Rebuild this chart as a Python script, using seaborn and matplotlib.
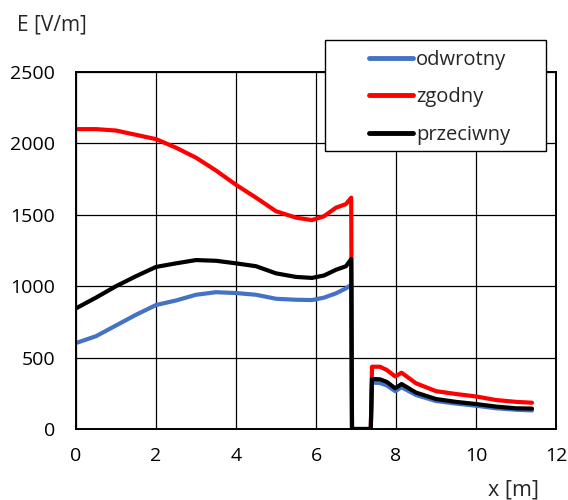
import matplotlib
matplotlib.use("Agg")
import matplotlib.pyplot as plt
from matplotlib.patches import Rectangle
import seaborn as sns
import pandas as pd

# x positions along the measurement path [m]
x_pos = [0, 0.5, 1, 1.5, 2, 2.5, 3, 3.5, 4, 4.5, 5, 5.5, 5.9, 6.2, 6.5, 6.75, 6.88,
         6.9, 7.37,
         7.4, 7.6, 7.77, 7.98, 8.14, 8.5, 9.0, 9.5, 10.0, 10.5, 11.0, 11.4]

odwrotny = [602, 650, 725, 800, 868, 900, 940, 958, 952, 940, 912, 905, 903, 920, 950, 985, 1010,
            0, 0,
            325, 322, 305, 265, 292, 238, 196, 178, 163, 145, 135, 130]
zgodny = [2100, 2100, 2090, 2060, 2030, 1970, 1900, 1810, 1710, 1620, 1525, 1480, 1463, 1490, 1550, 1575, 1620,
          0, 0,
          436, 436, 413, 368, 394, 320, 265, 245, 228, 203, 190, 184]
przeciwny = [845, 920, 1000, 1070, 1135, 1160, 1183, 1178, 1160, 1140, 1090, 1065, 1058, 1075, 1115, 1140, 1190,
             0, 0,
             350, 348, 330, 285, 315, 255, 210, 190, 175, 157, 145, 143]

series_names = ["odwrotny", "zgodny", "przeciwny"]
series_colors = ["#4472C4", "#FF0000", "#000000"]

x_ticks = [0, 2, 4, 6, 8, 10, 12]
y_ticks = [0, 500, 1000, 1500, 2000, 2500]

rows = []
for name, vals in zip(series_names, [odwrotny, zgodny, przeciwny]):
    for xv, yv in zip(x_pos, vals):
        rows.append({"x": xv, "E": yv, "seria": name})
df = pd.DataFrame(rows)

sns.set_style("white")
plt.rcParams["font.family"] = ["Open Sans", "DejaVu Sans"]

fig = plt.figure(figsize=(5.68, 5.00), dpi=100)
ax = fig.add_axes([76 / 568, 71 / 500, (556 - 76) / 568, (429 - 72) / 500])

sns.lineplot(data=df, x="x", y="E", hue="seria", hue_order=series_names,
             palette=dict(zip(series_names, series_colors)), estimator=None,
             sort=False, linewidth=3, ax=ax)

ax.set_xlim(0, 12)
ax.set_ylim(0, 2500)
ax.set_xticks(x_ticks)
ax.set_yticks(y_ticks)
ax.set_xticklabels([str(t) for t in x_ticks])
ax.set_yticklabels([str(t) for t in y_ticks])
ax.tick_params(axis="both", length=0, labelsize=14, colors="black")
ax.tick_params(axis="x", pad=13)
ax.tick_params(axis="y", pad=15)
ax.grid(True, color="black", linewidth=0.9)
ax.set_axisbelow(True)
for s in ax.spines.values():
    s.set_visible(True)
    s.set_color("black")
    s.set_linewidth(1.4)
ax.set_xlabel("")
ax.set_ylabel("")

handles, labels = ax.get_legend_handles_labels()
ax.get_legend().remove()

# legend frame box (figure pixels 325..546 x 40..151)
box = Rectangle((325 / 568, 1 - 151 / 500), (546 - 325) / 568, (151 - 40) / 500,
                transform=fig.transFigure, facecolor="white", edgecolor="black",
                linewidth=1.0, zorder=4)
fig.patches.append(box)

leg = fig.legend(handles, labels, loc="upper left",
                 bbox_to_anchor=(363 / 568, 1 - 44 / 500),
                 frameon=False, fontsize=14.5, handlelength=2.2,
                 handletextpad=0.15, labelspacing=0.86, borderpad=0.3,
                 borderaxespad=0)
leg.set_zorder(6)
for line in leg.get_lines():
    line.set_linewidth(3.5)

fig.text(17 / 568, 1 - 25 / 500, "E [V/m]", fontsize=15, va="center", ha="left")
fig.text(514 / 568, 1 - 490 / 500, "x [m]", fontsize=15.5, va="center", ha="center")

fig.savefig("out.png", dpi=100, facecolor="white")
